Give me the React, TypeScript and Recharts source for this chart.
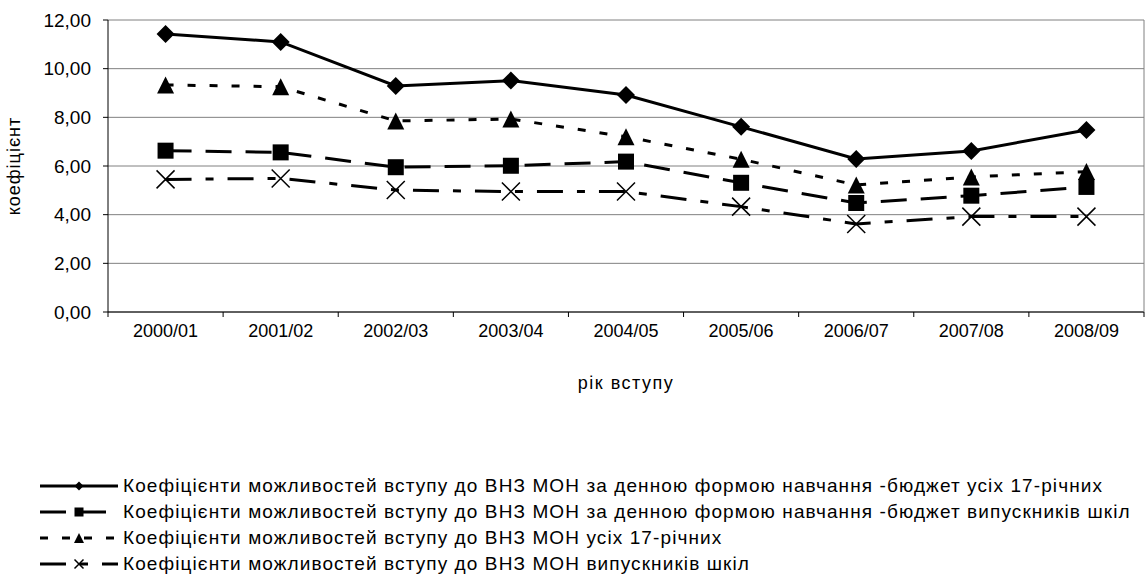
import React from 'react';
import { LineChart, Line, XAxis, YAxis, CartesianGrid, Legend } from 'recharts';

const W = 1145;
const H = 577;
const MARGIN = { top: 20, right: 0, bottom: 185, left: 0 };
const Y_AXIS_W = 108;
const X_AXIS_H = 80;
const FONT = '"Liberation Sans", Arial, sans-serif';

const categories = ['2000/01', '2001/02', '2002/03', '2003/04', '2004/05', '2005/06', '2006/07', '2007/08', '2008/09'];
const budgetAll17 = [11.42, 11.1, 9.29, 9.51, 8.92, 7.61, 6.29, 6.62, 7.48];
const budgetGraduates = [6.63, 6.56, 5.95, 6.01, 6.18, 5.31, 4.48, 4.78, 5.14];
const all17 = [9.33, 9.26, 7.85, 7.93, 7.2, 6.28, 5.22, 5.55, 5.77];
const graduates = [5.45, 5.49, 5.01, 4.95, 4.95, 4.33, 3.62, 3.92, 3.92];
const yTicks = [0, 2, 4, 6, 8, 10, 12];

const seriesNames = [
  'Коефіцієнти можливостей вступу до ВНЗ МОН за денною формою навчання -бюджет усіх 17-річних',
  'Коефіцієнти можливостей вступу до ВНЗ МОН за денною формою навчання -бюджет випускників шкіл',
  'Коефіцієнти можливостей вступу до ВНЗ МОН усіх 17-річних',
  'Коефіцієнти можливостей вступу до ВНЗ МОН випускників шкіл',
];

const data = categories.map((year, i) => ({
  year,
  budgetAll17: budgetAll17[i],
  budgetGraduates: budgetGraduates[i],
  all17: all17[i],
  graduates: graduates[i],
}));

const plotW = W - MARGIN.left - MARGIN.right - Y_AXIS_W - 1;
const bandW = plotW / categories.length;

type Shape = 'diamond' | 'square' | 'triangle' | 'cross';

const Marker = ({ cx, cy, shape, s }: { cx: number; cy: number; shape: Shape; s: number }) => {
  if (cx == null || cy == null) return null;
  if (shape === 'diamond')
    return <path d={`M${cx},${cy - s}L${cx + s},${cy}L${cx},${cy + s}L${cx - s},${cy}Z`} fill="#000" />;
  if (shape === 'square')
    return <rect x={cx - s} y={cy - s} width={s * 2} height={s * 2} fill="#000" />;
  if (shape === 'triangle')
    return <path d={`M${cx},${cy - s}L${cx + s},${cy + s}L${cx - s},${cy + s}Z`} fill="#000" />;
  return (
    <path
      d={`M${cx - s},${cy - s}L${cx + s},${cy + s}M${cx - s},${cy + s}L${cx + s},${cy - s}`}
      stroke="#000"
      strokeWidth={1.5}
      fill="none"
    />
  );
};

const series = [
  { key: 'budgetAll17', name: seriesNames[0], dash: undefined, shape: 'diamond' as Shape, size: 9 },
  { key: 'budgetGraduates', name: seriesNames[1], dash: '26 14', shape: 'square' as Shape, size: 8 },
  { key: 'all17', name: seriesNames[2], dash: '8 14', shape: 'triangle' as Shape, size: 8.5 },
  { key: 'graduates', name: seriesNames[3], dash: '26 14 8 14', shape: 'cross' as Shape, size: 9 },
];

const XTick = (props: any) => {
  const { x, y, payload, index } = props;
  const axisY = y - 12;
  const left = x - bandW / 2;
  return (
    <g>
      <line x1={left} x2={left} y1={axisY} y2={axisY + 5} stroke="#000" />
      {index === categories.length - 1 && (
        <line x1={x + bandW / 2} x2={x + bandW / 2} y1={axisY} y2={axisY + 5} stroke="#000" />
      )}
      <text x={x} y={y} dy="0.71em" textAnchor="middle" fontSize={18} fill="#000" fontFamily={FONT}>
        {payload.value}
      </text>
    </g>
  );
};

const LegendBox = () => (
  <div style={{ fontFamily: FONT, fontSize: 19, color: '#000' }}>
    {series.map((s) => (
      <div key={s.key} style={{ display: 'flex', alignItems: 'center', height: 26, lineHeight: '22px' }}>
        <svg width={123} height={20} style={{ flex: 'none' }}>
          <line x1={40} x2={118} y1={10} y2={10} stroke="#000" strokeWidth={3} strokeDasharray={s.dash} />
          <Marker cx={79} cy={10} shape={s.shape} s={s.shape === 'triangle' ? 5 : 4.5} />
        </svg>
        <span style={{ letterSpacing: 1.1, whiteSpace: 'nowrap' }}>{s.name}</span>
      </div>
    ))}
  </div>
);

export default function App() {
  return (
    <div style={{ position: 'absolute', left: 0, top: 0, width: W, height: H, background: '#fff', fontFamily: FONT }}>
      <LineChart width={W} height={H} data={data} margin={MARGIN}>
        <CartesianGrid vertical={false} stroke="#808080" />
        <XAxis
          dataKey="year"
          scale="point"
          padding={{ left: bandW / 2, right: bandW / 2 }}
          height={X_AXIS_H}
          stroke="#000"
          tickLine={false}
          tickSize={5}
          tickMargin={7}
          tick={<XTick />}
          interval={0}
          label={(p: any) => (
            <text
              x={p.viewBox.x + p.viewBox.width / 2}
              y={p.viewBox.y + 71}
              textAnchor="middle"
              dominantBaseline="central"
              fontSize={18}
              letterSpacing={1.5}
              fill="#000"
              fontFamily={FONT}
            >
              рік вступу
            </text>
          )}
        />
        <YAxis
          width={Y_AXIS_W}
          domain={[0, 12]}
          ticks={yTicks}
          stroke="#000"
          tickSize={5}
          tickMargin={12}
          tick={{ fill: '#000', fontSize: 19, fontFamily: FONT }}
          tickFormatter={(v: number) => v.toFixed(2).replace('.', ',')}
          label={(p: any) => {
            const cy = p.viewBox.y + p.viewBox.height / 2;
            return (
              <text
                x={14}
                y={cy}
                transform={`rotate(-90 14 ${cy})`}
                textAnchor="middle"
                dominantBaseline="central"
                fontSize={18}
                letterSpacing={1}
                fill="#000"
                fontFamily={FONT}
              >
                коефіцієнт
              </text>
            );
          }}
        />
        <YAxis
          yAxisId="right"
          orientation="right"
          width={1}
          domain={[0, 12]}
          tick={false}
          tickLine={false}
          stroke="#808080"
        />
        {series.map((s) => (
          <Line
            key={s.key}
            dataKey={s.key}
            name={s.name}
            stroke="#000"
            strokeWidth={3}
            strokeDasharray={s.dash}
            isAnimationActive={false}
            dot={(p: any) => <Marker key={`${s.key}-${p.index}`} cx={p.cx} cy={p.cy} shape={s.shape} s={s.size} />}
            activeDot={false}
          />
        ))}
        <Legend
          verticalAlign="middle"
          align="center"
          layout="horizontal"
          content={<LegendBox />}
          wrapperStyle={{ top: 473, left: 0, width: W }}
        />
      </LineChart>
    </div>
  );
}
